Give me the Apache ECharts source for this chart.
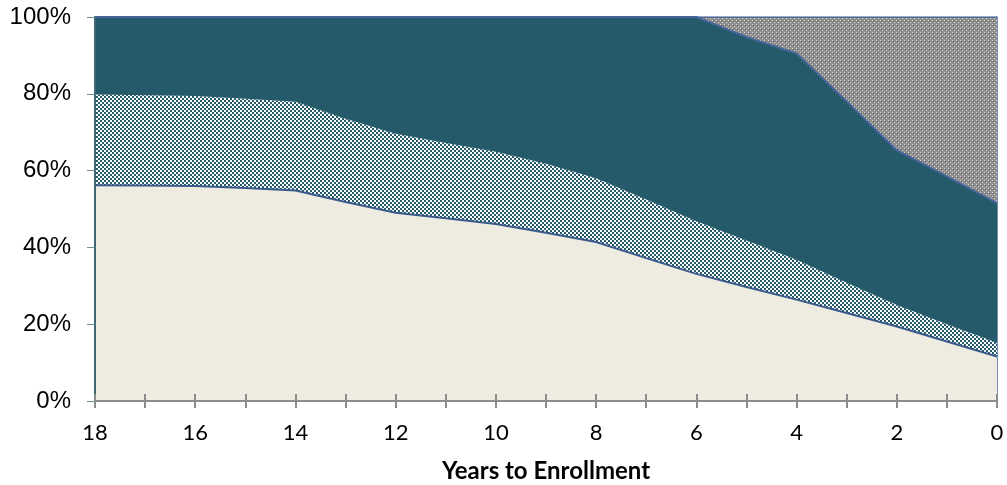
<!DOCTYPE html>
<html>
<head>
<meta charset="utf-8">
<script src="https://cdn.jsdelivr.net/npm/echarts@6/dist/echarts.min.js"></script>
<style>
  html, body { margin: 0; padding: 0; background: #fff; }
  #chart { width: 1007px; height: 485px; }
</style>
</head>
<body>
<div id="chart"></div>
<script>
// years to enrollment, left to right
var years = ['18','17','16','15','14','13','12','11','10','9','8','7','6','5','4','3','2','1','0'];
// share of each layer, % (bottom to top)
var layerBeige   = [56.2, 56.1, 56.0, 55.5, 54.8, 51.8, 49.0, 47.6, 46.1, 43.8, 41.4, 37.2, 33.1, 29.7, 26.4, 22.9, 19.4, 15.5, 11.6];
var layerChecker = [23.6, 23.5, 23.4, 23.2, 23.1, 21.7, 20.6, 19.6, 18.8, 18.0, 16.6, 15.3, 13.7, 12.1, 10.4, 7.9, 5.6, 4.5, 3.6];
var layerDark    = [20.2, 20.4, 20.6, 21.3, 22.1, 26.5, 30.4, 32.8, 35.1, 38.2, 42.0, 47.5, 53.2, 53.0, 53.7, 47.2, 40.3, 38.5, 36.3];
var layerGray    = [0, 0, 0, 0, 0, 0, 0, 0, 0, 0, 0, 0, 0, 5.2, 9.5, 22.0, 34.7, 41.5, 48.5];
var yTicks = [0, 20, 40, 60, 80, 100];

function makePattern(draw){
	var c = document.createElement('canvas');
	c.width = 4; c.height = 4;
	draw(c.getContext('2d'));
	return c;
}
var checker = makePattern(function(ctx){
	ctx.fillStyle = '#ffffff'; ctx.fillRect(0,0,4,4);
	ctx.fillStyle = '#245a69';
	ctx.fillRect(0,0,2,2); ctx.fillRect(2,2,2,2);
});
var grayDots = makePattern(function(ctx){
	ctx.fillStyle = '#8e8e8e'; ctx.fillRect(0,0,4,4);
	ctx.fillStyle = '#dadada'; ctx.fillRect(0,0,1,1); ctx.fillRect(2,2,1,1);
	ctx.fillStyle = '#555555'; ctx.fillRect(1,1,1,1);
});

var chart = echarts.init(document.getElementById('chart'));
chart.setOption({
	animation: false,
	grid: { left: 95, right: 10, top: 17, bottom: 84, outerBoundsMode: 'none' },
	xAxis: [{
		type: 'category',
		data: years,
		boundaryGap: false,
		name: 'Years to Enrollment',
		nameLocation: 'middle',
		nameGap: 58,
		nameTextStyle: { fontFamily: 'Lato', fontWeight: 'bold', fontSize: 24, color: '#000' },
		axisLine: { lineStyle: { color: '#8c8c8c', width: 2 } },
		axisTick: { interval: 0, length: 7, lineStyle: { color: '#8c8c8c', width: 2 } },
		axisLabel: { interval: 1, margin: 21, fontFamily: 'Lato', fontSize: 22, color: '#000' },
		z: 5
	}, {
		type: 'category',
		data: years,
		boundaryGap: false,
		position: 'bottom',
		axisLine: { show: false },
		axisTick: { inside: true, interval: 0, length: 7, lineStyle: { color: '#8c8c8c', width: 2 } },
		axisLabel: { show: false },
		z: 5
	}],
	yAxis: [{
		type: 'value',
		min: 0, max: 100, interval: 20,
		axisLine: { show: true, lineStyle: { color: '#3d6670', width: 2 } },
		axisTick: { show: true, length: 8, lineStyle: { color: '#6f8a92' } },
		axisLabel: {
			margin: 24, fontFamily: 'Liberation Sans', fontSize: 24, color: '#000',
			formatter: function(v){ return yTicks.indexOf(v) >= 0 ? v + '%' : ''; }
		},
		splitLine: { show: false },
		z: 5
	}, {
		type: 'value',
		min: 0, max: 100, interval: 20,
		position: 'right',
		axisLine: { show: true, lineStyle: { color: '#4a6a9a', width: 1.5 } },
		axisTick: { show: false },
		axisLabel: { show: false },
		splitLine: { show: false }
	}],
	series: [{
		type: 'line', stack: 'all', data: layerBeige, symbol: 'none',
		lineStyle: { color: '#3a5a8c', width: 2 },
		areaStyle: { color: '#eeebe0', opacity: 1 }
	}, {
		type: 'line', stack: 'all', data: layerChecker, symbol: 'none',
		lineStyle: { width: 0 },
		areaStyle: { color: { image: checker, repeat: 'repeat' }, opacity: 1 }
	}, {
		type: 'line', stack: 'all', data: layerDark, symbol: 'none',
		lineStyle: { color: '#46659a', width: 2 },
		areaStyle: { color: '#245a69', opacity: 1 }
	}, {
		type: 'line', stack: 'all', data: layerGray, symbol: 'none',
		lineStyle: { color: '#46659a', width: 1.5 },
		areaStyle: { color: { image: grayDots, repeat: 'repeat' }, opacity: 1 }
	}]
});
</script>
</body>
</html>
